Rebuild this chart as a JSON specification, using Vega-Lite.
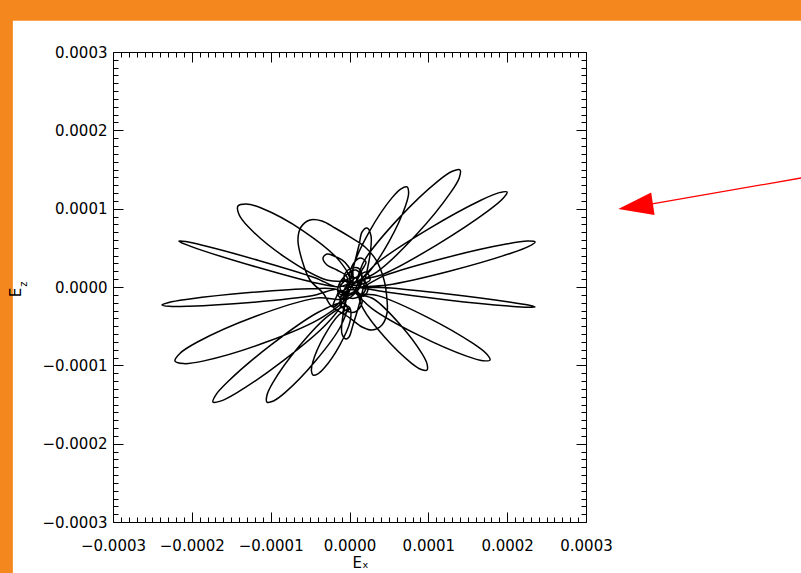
{
"$schema": "https://vega.github.io/schema/vega-lite/v6.json",
"width": 473, "height": 470,
"autosize": {"type": "none"},
"padding": {"left": 113, "top": 52, "right": 215, "bottom": 51},
"background": "#f5871f",
"config": {"view": {"stroke": null}, "font": "DejaVu Sans"},
"datasets": {
"panel": [{"x1": -4.27e-4, "x2": 5.95e-4, "y1": 3.40e-4, "y2": -3.95e-4}],
"arrow": [{"x1": 5.9e-4, "y1": 1.422e-4, "x2": 3.839e-4, "y2": 1.06e-4}],
"head": [{"x": 3.629e-4, "y": 1.028e-4}],
"sub": [{"x": -4.096e-4, "y": 0.038e-4, "t": "z"}],
"curve": [
{"Ex":-0.146e-4,"Ez":0},{"Ex":-0.458e-4,"Ez":0.058e-4},{"Ex":-1.167e-4,"Ez":0.251e-4},{"Ex":-1.870e-4,"Ez":0.468e-4},{"Ex":-2.088e-4,"Ez":0.547e-4},{"Ex":-2.164e-4,"Ez":0.587e-4},{"Ex":-2.078e-4,"Ez":0.580e-4},{"Ex":-1.852e-4,"Ez":0.529e-4},{"Ex":-1.143e-4,"Ez":0.336e-4},{"Ex":-0.440e-4,"Ez":0.119e-4},{"Ex":-0.146e-4,"Ez":0},
{"Ex":0.006e-4,"Ez":0.064e-4},{"Ex":-0.289e-4,"Ez":0.089e-4},{"Ex":-0.820e-4,"Ez":0.381e-4},{"Ex":-1.284e-4,"Ez":0.768e-4},{"Ex":-1.403e-4,"Ez":0.929e-4},{"Ex":-1.415e-4,"Ez":1.034e-4},{"Ex":-1.313e-4,"Ez":1.061e-4},{"Ex":-1.120e-4,"Ez":1.009e-4},{"Ex":-0.589e-4,"Ez":0.718e-4},{"Ex":-0.125e-4,"Ez":0.330e-4},{"Ex":0.006e-4,"Ez":0.064e-4},
{"Ex":-0.209e-4,"Ez":-0.255e-4},{"Ex":-0.336e-4,"Ez":-0.077e-4},{"Ex":-0.501e-4,"Ez":0.089e-4},{"Ex":-0.603e-4,"Ez":0.345e-4},{"Ex":-0.654e-4,"Ez":0.600e-4},{"Ex":-0.615e-4,"Ez":0.766e-4},{"Ex":-0.501e-4,"Ez":0.856e-4},{"Ex":-0.349e-4,"Ez":0.843e-4},{"Ex":-0.184e-4,"Ez":0.753e-4},{"Ex":0.006e-4,"Ez":0.639e-4},{"Ex":0.197e-4,"Ez":0.511e-4},{"Ex":0.336e-4,"Ez":0.345e-4},{"Ex":0.438e-4,"Ez":0.089e-4},{"Ex":0.476e-4,"Ez":-0.166e-4},{"Ex":0.476e-4,"Ez":-0.332e-4},{"Ex":0.412e-4,"Ez":-0.485e-4},{"Ex":0.286e-4,"Ez":-0.549e-4},{"Ex":0.159e-4,"Ez":-0.511e-4},{"Ex":0.006e-4,"Ez":-0.396e-4},{"Ex":-0.121e-4,"Ez":-0.319e-4},{"Ex":-0.209e-4,"Ez":-0.255e-4},
{"Ex":-0.146e-4,"Ez":-0.038e-4},{"Ex":-0.477e-4,"Ez":-0.112e-4},{"Ex":-1.257e-4,"Ez":-0.198e-4},{"Ex":-2.040e-4,"Ez":-0.246e-4},{"Ex":-2.288e-4,"Ez":-0.247e-4},{"Ex":-2.379e-4,"Ez":-0.230e-4},{"Ex":-2.292e-4,"Ez":-0.197e-4},{"Ex":-2.048e-4,"Ez":-0.156e-4},{"Ex":-1.268e-4,"Ez":-0.071e-4},{"Ex":-0.485e-4,"Ez":-0.022e-4},{"Ex":-0.146e-4,"Ez":-0.038e-4},
{"Ex":-0.057e-4,"Ez":-0.140e-4},{"Ex":-0.336e-4,"Ez":-0.380e-4},{"Ex":-1.073e-4,"Ez":-0.709e-4},{"Ex":-1.846e-4,"Ez":-0.943e-4},{"Ex":-2.104e-4,"Ez":-0.978e-4},{"Ex":-2.214e-4,"Ez":-0.945e-4},{"Ex":-2.152e-4,"Ez":-0.848e-4},{"Ex":-1.935e-4,"Ez":-0.705e-4},{"Ex":-1.198e-4,"Ez":-0.376e-4},{"Ex":-0.425e-4,"Ez":-0.142e-4},{"Ex":-0.057e-4,"Ez":-0.140e-4},
{"Ex":-0.032e-4,"Ez":0.128e-4},{"Ex":-0.159e-4,"Ez":0.217e-4},{"Ex":-0.286e-4,"Ez":0.281e-4},{"Ex":-0.336e-4,"Ez":0.370e-4},{"Ex":-0.286e-4,"Ez":0.421e-4},{"Ex":-0.197e-4,"Ez":0.396e-4},{"Ex":-0.095e-4,"Ez":0.345e-4},{"Ex":-0.019e-4,"Ez":0.268e-4},{"Ex":0.032e-4,"Ez":0.153e-4},
{"Ex":-0.121e-4,"Ez":-0.166e-4},{"Ex":-0.057e-4,"Ez":-0.294e-4},{"Ex":0.070e-4,"Ez":-0.319e-4},{"Ex":0.159e-4,"Ez":-0.204e-4},{"Ex":0.108e-4,"Ez":-0.064e-4},{"Ex":-0.019e-4,"Ez":-0.038e-4},{"Ex":-0.121e-4,"Ez":-0.166e-4},
{"Ex":-0.095e-4,"Ez":-0.204e-4},{"Ex":-0.286e-4,"Ez":-0.466e-4},{"Ex":-0.836e-4,"Ez":-0.937e-4},{"Ex":-1.431e-4,"Ez":-1.351e-4},{"Ex":-1.637e-4,"Ez":-1.457e-4},{"Ex":-1.732e-4,"Ez":-1.469e-4},{"Ex":-1.697e-4,"Ez":-1.379e-4},{"Ex":-1.541e-4,"Ez":-1.207e-4},{"Ex":-0.991e-4,"Ez":-0.736e-4},{"Ex":-0.396e-4,"Ez":-0.322e-4},{"Ex":-0.095e-4,"Ez":-0.204e-4},
{"Ex":-0.032e-4,"Ez":-0.243e-4},{"Ex":-0.107e-4,"Ez":-0.491e-4},{"Ex":-0.432e-4,"Ez":-0.945e-4},{"Ex":-0.818e-4,"Ez":-1.349e-4},{"Ex":-0.964e-4,"Ez":-1.455e-4},{"Ex":-1.047e-4,"Ez":-1.469e-4},{"Ex":-1.048e-4,"Ez":-1.385e-4},{"Ex":-0.972e-4,"Ez":-1.221e-4},{"Ex":-0.647e-4,"Ez":-0.767e-4},{"Ex":-0.261e-4,"Ez":-0.363e-4},{"Ex":-0.032e-4,"Ez":-0.243e-4},
{"Ex":0.006e-4,"Ez":-0.268e-4},{"Ex":0.008e-4,"Ez":-0.436e-4},{"Ex":-0.128e-4,"Ez":-0.751e-4},{"Ex":-0.321e-4,"Ez":-1.035e-4},{"Ex":-0.405e-4,"Ez":-1.112e-4},{"Ex":-0.463e-4,"Ez":-1.124e-4},{"Ex":-0.483e-4,"Ez":-1.069e-4},{"Ex":-0.465e-4,"Ez":-0.956e-4},{"Ex":-0.329e-4,"Ez":-0.641e-4},{"Ex":-0.136e-4,"Ez":-0.357e-4},{"Ex":0.006e-4,"Ez":-0.268e-4},
{"Ex":-0.082e-4,"Ez":-0.358e-4},{"Ex":-0.019e-4,"Ez":-0.038e-4},{"Ex":0.057e-4,"Ez":0.281e-4},{"Ex":0.121e-4,"Ez":0.536e-4},{"Ex":0.159e-4,"Ez":0.702e-4},{"Ex":0.222e-4,"Ez":0.753e-4},{"Ex":0.273e-4,"Ez":0.651e-4},{"Ex":0.260e-4,"Ez":0.409e-4},{"Ex":0.197e-4,"Ez":0.089e-4},{"Ex":0.121e-4,"Ez":-0.230e-4},{"Ex":0.044e-4,"Ez":-0.485e-4},{"Ex":-0.006e-4,"Ez":-0.639e-4},{"Ex":-0.044e-4,"Ez":-0.664e-4},{"Ex":-0.095e-4,"Ez":-0.600e-4},{"Ex":-0.082e-4,"Ez":-0.358e-4},
{"Ex":0.006e-4,"Ez":-0.038e-4},{"Ex":0.082e-4,"Ez":0.064e-4},{"Ex":0.184e-4,"Ez":0.089e-4},{"Ex":0.209e-4,"Ez":-0.013e-4},{"Ex":0.133e-4,"Ez":-0.115e-4},{"Ex":0.006e-4,"Ez":-0.140e-4},{"Ex":-0.070e-4,"Ez":-0.064e-4},{"Ex":-0.019e-4,"Ez":0.038e-4},{"Ex":0.108e-4,"Ez":0.140e-4},{"Ex":0.209e-4,"Ez":0.192e-4},{"Ex":0.260e-4,"Ez":0.089e-4},
{"Ex":0.032e-4,"Ez":0.026e-4},{"Ex":-0.070e-4,"Ez":0.115e-4},{"Ex":-0.019e-4,"Ez":0.217e-4},{"Ex":0.108e-4,"Ez":0.243e-4},{"Ex":0.159e-4,"Ez":0.140e-4},{"Ex":0.082e-4,"Ez":-0.038e-4},{"Ex":-0.044e-4,"Ez":-0.089e-4},{"Ex":-0.121e-4,"Ez":-0.013e-4},{"Ex":-0.044e-4,"Ez":0.089e-4},{"Ex":0.082e-4,"Ez":0.115e-4},{"Ex":0.133e-4,"Ez":0.013e-4},{"Ex":0.032e-4,"Ez":-0.115e-4},{"Ex":-0.070e-4,"Ez":-0.166e-4},{"Ex":-0.146e-4,"Ez":-0.089e-4},
{"Ex":0.032e-4,"Ez":0.026e-4},{"Ex":0.050e-4,"Ez":0.263e-4},{"Ex":0.259e-4,"Ez":0.720e-4},{"Ex":0.538e-4,"Ez":1.138e-4},{"Ex":0.654e-4,"Ez":1.254e-4},{"Ex":0.730e-4,"Ez":1.277e-4},{"Ex":0.750e-4,"Ez":1.200e-4},{"Ex":0.712e-4,"Ez":1.040e-4},{"Ex":0.503e-4,"Ez":0.583e-4},{"Ex":0.224e-4,"Ez":0.165e-4},{"Ex":0.032e-4,"Ez":0.026e-4},
{"Ex":0.070e-4,"Ez":0.051e-4},{"Ex":0.190e-4,"Ez":0.341e-4},{"Ex":0.624e-4,"Ez":0.876e-4},{"Ex":1.122e-4,"Ez":1.352e-4},{"Ex":1.305e-4,"Ez":1.477e-4},{"Ex":1.402e-4,"Ez":1.494e-4},{"Ex":1.393e-4,"Ez":1.396e-4},{"Ex":1.282e-4,"Ez":1.204e-4},{"Ex":0.849e-4,"Ez":0.669e-4},{"Ex":0.350e-4,"Ez":0.194e-4},{"Ex":0.070e-4,"Ez":0.051e-4},
{"Ex":0.108e-4,"Ez":0.064e-4},{"Ex":0.349e-4,"Ez":0.306e-4},{"Ex":0.994e-4,"Ez":0.736e-4},{"Ex":1.673e-4,"Ez":1.111e-4},{"Ex":1.900e-4,"Ez":1.205e-4},{"Ex":1.999e-4,"Ez":1.213e-4},{"Ex":1.946e-4,"Ez":1.129e-4},{"Ex":1.758e-4,"Ez":0.971e-4},{"Ex":1.113e-4,"Ez":0.541e-4},{"Ex":0.434e-4,"Ez":0.166e-4},{"Ex":0.108e-4,"Ez":0.064e-4},
{"Ex":0.133e-4,"Ez":0},{"Ex":0.450e-4,"Ez":0.148e-4},{"Ex":1.221e-4,"Ez":0.374e-4},{"Ex":2.005e-4,"Ez":0.551e-4},{"Ex":2.256e-4,"Ez":0.586e-4},{"Ex":2.354e-4,"Ez":0.575e-4},{"Ex":2.274e-4,"Ez":0.518e-4},{"Ex":2.037e-4,"Ez":0.427e-4},{"Ex":1.266e-4,"Ez":0.201e-4},{"Ex":0.482e-4,"Ez":0.025e-4},{"Ex":0.133e-4,"Ez":0},
{"Ex":0.469e-4,"Ez":-0.011e-4},{"Ex":1.248e-4,"Ez":-0.090e-4},{"Ex":2.024e-4,"Ez":-0.190e-4},{"Ex":2.267e-4,"Ez":-0.230e-4},{"Ex":2.354e-4,"Ez":-0.255e-4},{"Ex":2.263e-4,"Ez":-0.260e-4},{"Ex":2.018e-4,"Ez":-0.244e-4},{"Ex":1.239e-4,"Ez":-0.165e-4},{"Ex":0.463e-4,"Ez":-0.065e-4},{"Ex":0.140e-4,"Ez":-0.010e-4},
{"Ex":-0.121e-4,"Ez":0.026e-4},{"Ex":-0.044e-4,"Ez":0.153e-4},{"Ex":0.082e-4,"Ez":0.217e-4},{"Ex":0.159e-4,"Ez":0.115e-4},{"Ex":0.108e-4,"Ez":-0.038e-4},{"Ex":-0.044e-4,"Ez":-0.115e-4},{"Ex":-0.146e-4,"Ez":-0.064e-4},{"Ex":-0.095e-4,"Ez":0.089e-4},
{"Ex":0.070e-4,"Ez":0.064e-4},{"Ex":0.159e-4,"Ez":0.217e-4},{"Ex":0.209e-4,"Ez":0.319e-4},{"Ex":0.133e-4,"Ez":0.370e-4},{"Ex":0.032e-4,"Ez":0.268e-4},{"Ex":0.006e-4,"Ez":0.089e-4},{"Ex":0.082e-4,"Ez":-0.064e-4},{"Ex":0.184e-4,"Ez":-0.115e-4},{"Ex":0.235e-4,"Ez":-0.013e-4},{"Ex":0.159e-4,"Ez":0.089e-4},
{"Ex":0.070e-4,"Ez":-0.064e-4},{"Ex":0.368e-4,"Ez":-0.113e-4},{"Ex":0.984e-4,"Ez":-0.384e-4},{"Ex":1.567e-4,"Ez":-0.721e-4},{"Ex":1.737e-4,"Ez":-0.853e-4},{"Ex":1.783e-4,"Ez":-0.932e-4},{"Ex":1.692e-4,"Ez":-0.941e-4},{"Ex":1.485e-4,"Ez":-0.883e-4},{"Ex":0.869e-4,"Ez":-0.612e-4},{"Ex":0.286e-4,"Ez":-0.275e-4},{"Ex":0.070e-4,"Ez":-0.064e-4},
{"Ex":0.108e-4,"Ez":-0.090e-4},{"Ex":0.307e-4,"Ez":-0.153e-4},{"Ex":0.641e-4,"Ez":-0.478e-4},{"Ex":0.920e-4,"Ez":-0.851e-4},{"Ex":0.985e-4,"Ez":-0.987e-4},{"Ex":0.983e-4,"Ez":-1.060e-4},{"Ex":0.911e-4,"Ez":-1.053e-4},{"Ex":0.784e-4,"Ez":-0.971e-4},{"Ex":0.450e-4,"Ez":-0.646e-4},{"Ex":0.171e-4,"Ez":-0.273e-4},{"Ex":0.108e-4,"Ez":-0.090e-4}
]
},
"layer": [
{
"data": {"name": "panel"},
"mark": {"type": "rect", "fill": "white", "strokeWidth": 0},
"encoding": {
"x": {"field": "x1", "type": "quantitative", "scale": {"domain": [-0.0003, 0.0003], "nice": false, "zero": false},
"axis": {"orient": "top", "values": [-30e-5,-29e-5,-28e-5,-27e-5,-26e-5,-25e-5,-24e-5,-23e-5,-22e-5,-21e-5,-20e-5,-19e-5,-18e-5,-17e-5,-16e-5,-15e-5,-14e-5,-13e-5,-12e-5,-11e-5,-10e-5,-9e-5,-8e-5,-7e-5,-6e-5,-5e-5,-4e-5,-3e-5,-2e-5,-1e-5,0,1e-5,2e-5,3e-5,4e-5,5e-5,6e-5,7e-5,8e-5,9e-5,10e-5,11e-5,12e-5,13e-5,14e-5,15e-5,16e-5,17e-5,18e-5,19e-5,20e-5,21e-5,22e-5,23e-5,24e-5,25e-5,26e-5,27e-5,28e-5,29e-5,30e-5],
"labels": false, "title": null, "grid": false, "zindex": 1,
"tickSize": {"condition": {"test": "abs(datum.value*10000 - round(datum.value*10000)) < 0.000001", "value": -10}, "value": -5},
"tickColor": "#000", "tickWidth": 1, "domainColor": "#000", "domainWidth": 1}},
"x2": {"field": "x2"},
"y": {"field": "y1", "type": "quantitative", "scale": {"domain": [-0.0003, 0.0003], "nice": false, "zero": false},
"axis": {"orient": "right", "values": [-30e-5,-29e-5,-28e-5,-27e-5,-26e-5,-25e-5,-24e-5,-23e-5,-22e-5,-21e-5,-20e-5,-19e-5,-18e-5,-17e-5,-16e-5,-15e-5,-14e-5,-13e-5,-12e-5,-11e-5,-10e-5,-9e-5,-8e-5,-7e-5,-6e-5,-5e-5,-4e-5,-3e-5,-2e-5,-1e-5,0,1e-5,2e-5,3e-5,4e-5,5e-5,6e-5,7e-5,8e-5,9e-5,10e-5,11e-5,12e-5,13e-5,14e-5,15e-5,16e-5,17e-5,18e-5,19e-5,20e-5,21e-5,22e-5,23e-5,24e-5,25e-5,26e-5,27e-5,28e-5,29e-5,30e-5],
"labels": false, "title": null, "grid": false, "zindex": 1,
"tickSize": {"condition": {"test": "abs(datum.value*10000 - round(datum.value*10000)) < 0.000001", "value": -10}, "value": -5},
"tickColor": "#000", "tickWidth": 1, "domainColor": "#000", "domainWidth": 1}},
"y2": {"field": "y2"}
}
},
{
"data": {"name": "curve"},
"mark": {"type": "line", "color": "#000", "strokeWidth": 1.5, "interpolate": "catmull-rom"},
"encoding": {
"x": {"field": "Ex", "type": "quantitative", "scale": {"domain": [-0.0003, 0.0003], "nice": false, "zero": false},
"axis": {"orient": "bottom", "values": [-30e-5,-29e-5,-28e-5,-27e-5,-26e-5,-25e-5,-24e-5,-23e-5,-22e-5,-21e-5,-20e-5,-19e-5,-18e-5,-17e-5,-16e-5,-15e-5,-14e-5,-13e-5,-12e-5,-11e-5,-10e-5,-9e-5,-8e-5,-7e-5,-6e-5,-5e-5,-4e-5,-3e-5,-2e-5,-1e-5,0,1e-5,2e-5,3e-5,4e-5,5e-5,6e-5,7e-5,8e-5,9e-5,10e-5,11e-5,12e-5,13e-5,14e-5,15e-5,16e-5,17e-5,18e-5,19e-5,20e-5,21e-5,22e-5,23e-5,24e-5,25e-5,26e-5,27e-5,28e-5,29e-5,30e-5],
"labelExpr": "abs(datum.value*10000 - round(datum.value*10000)) < 0.000001 ? format(datum.value, '.4f') : ''",
"labelOverlap": false, "labelFlush": false, "grid": false, "zindex": 1,
"tickSize": {"condition": {"test": "abs(datum.value*10000 - round(datum.value*10000)) < 0.000001", "value": -10}, "value": -5},
"tickColor": "#000", "tickWidth": 1, "domainColor": "#000", "domainWidth": 1,
"labelFont": "DejaVu Sans", "labelFontSize": 15, "labelColor": "#000", "labelPadding": 26,
"title": "Eₓ", "titleFont": "DejaVu Sans", "titleFontSize": 15, "titleFontWeight": "normal", "titleColor": "#000",
"titleX": 247, "titleY": 45, "titleBaseline": "alphabetic", "titleAlign": "center"}},
"y": {"field": "Ez", "type": "quantitative", "scale": {"domain": [-0.0003, 0.0003], "nice": false, "zero": false},
"axis": {"orient": "left", "values": [-30e-5,-29e-5,-28e-5,-27e-5,-26e-5,-25e-5,-24e-5,-23e-5,-22e-5,-21e-5,-20e-5,-19e-5,-18e-5,-17e-5,-16e-5,-15e-5,-14e-5,-13e-5,-12e-5,-11e-5,-10e-5,-9e-5,-8e-5,-7e-5,-6e-5,-5e-5,-4e-5,-3e-5,-2e-5,-1e-5,0,1e-5,2e-5,3e-5,4e-5,5e-5,6e-5,7e-5,8e-5,9e-5,10e-5,11e-5,12e-5,13e-5,14e-5,15e-5,16e-5,17e-5,18e-5,19e-5,20e-5,21e-5,22e-5,23e-5,24e-5,25e-5,26e-5,27e-5,28e-5,29e-5,30e-5],
"labelExpr": "abs(datum.value*10000 - round(datum.value*10000)) < 0.000001 ? format(datum.value, '.4f') : ''",
"labelOverlap": false, "labelFlush": false, "grid": false, "zindex": 1,
"tickSize": {"condition": {"test": "abs(datum.value*10000 - round(datum.value*10000)) < 0.000001", "value": -10}, "value": -5},
"tickColor": "#000", "tickWidth": 1, "domainColor": "#000", "domainWidth": 1,
"labelFont": "DejaVu Sans", "labelFontSize": 15, "labelColor": "#000", "labelPadding": 16,
"title": "E", "titleFont": "DejaVu Sans", "titleFontSize": 15, "titleFontWeight": "normal", "titleColor": "#000",
"titleX": -93, "titleY": 240, "titleAngle": 270, "titleBaseline": "alphabetic", "titleAlign": "center"}},
"order": {"value": null}
}
},
{
"data": {"name": "arrow"},
"mark": {"type": "rule", "color": "#ff0000", "strokeWidth": 1.3},
"encoding": {
"x": {"field": "x1", "type": "quantitative", "scale": {"domain": [-0.0003, 0.0003], "nice": false, "zero": false}, "axis": null},
"y": {"field": "y1", "type": "quantitative", "scale": {"domain": [-0.0003, 0.0003], "nice": false, "zero": false}, "axis": null},
"x2": {"field": "x2"},
"y2": {"field": "y2"}
}
},
{
"data": {"name": "head"},
"mark": {"type": "point", "shape": "M -1 0 L 1 -0.65 L 1 0.65 Z", "size": 1225, "filled": true, "color": "#ff0000", "opacity": 1, "angle": 351.4, "strokeWidth": 0},
"encoding": {
"x": {"field": "x", "type": "quantitative", "scale": {"domain": [-0.0003, 0.0003], "nice": false, "zero": false}, "axis": null},
"y": {"field": "y", "type": "quantitative", "scale": {"domain": [-0.0003, 0.0003], "nice": false, "zero": false}, "axis": null}
}
},
{
"data": {"name": "sub"},
"mark": {"type": "text", "font": "DejaVu Sans", "fontSize": 10, "angle": 270, "baseline": "alphabetic", "align": "center", "color": "#000"},
"encoding": {
"x": {"field": "x", "type": "quantitative", "scale": {"domain": [-0.0003, 0.0003], "nice": false, "zero": false}, "axis": null},
"y": {"field": "y", "type": "quantitative", "scale": {"domain": [-0.0003, 0.0003], "nice": false, "zero": false}, "axis": null},
"text": {"field": "t"}
}
}
],
"resolve": {"axis": {"x": "independent", "y": "independent"}}
}
